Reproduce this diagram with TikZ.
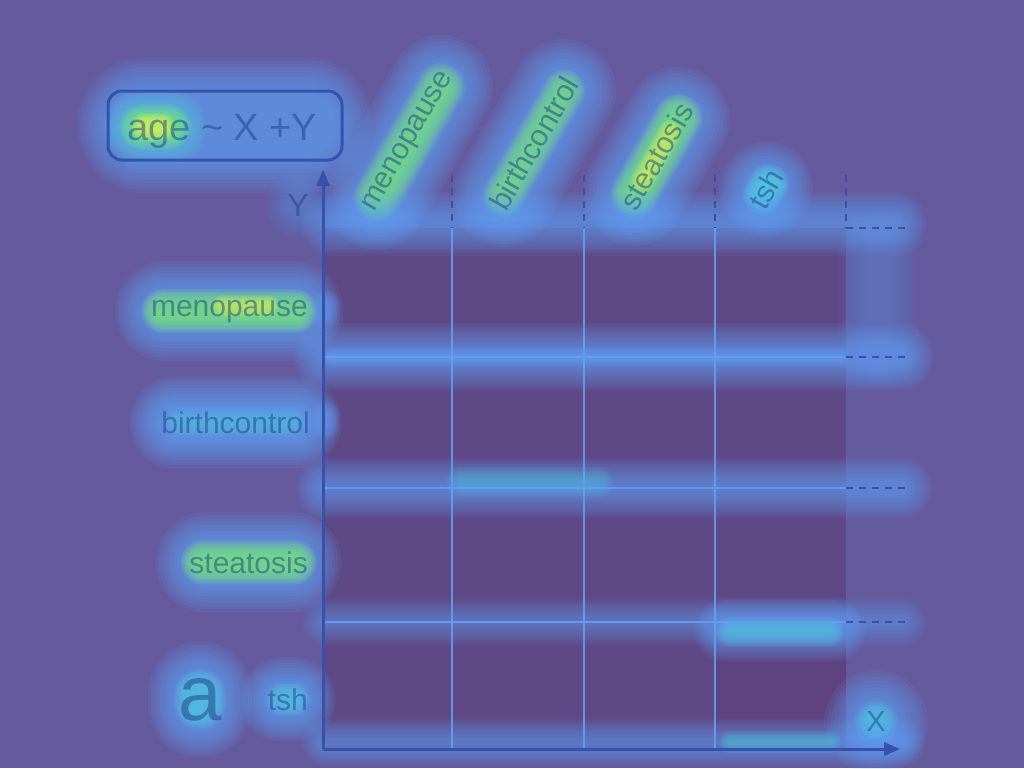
\documentclass[tikz,border=0pt]{standalone}
\usepackage{fontspec}
\setmainfont{Liberation Sans}
\usetikzlibrary{arrows.meta}
\definecolor{bg}{HTML}{655A9E}
\definecolor{cellc}{HTML}{5E4885}
\definecolor{cellr}{HTML}{5F4380}
\definecolor{gridc}{HTML}{62A2F6}
\definecolor{axisc}{HTML}{3552AE}
\definecolor{dashc}{HTML}{3F4FA2}
\definecolor{gblue}{HTML}{5EA8FF}
\definecolor{gcyan}{HTML}{4FD8E8}
\definecolor{ggreen}{HTML}{78EA7A}
\definecolor{gyel}{HTML}{D6F25A}
\definecolor{txt}{HTML}{1E3C8C}
\pgfdeclarelayer{back}
\pgfdeclarelayer{glow}
\pgfsetlayers{back,glow,main}
% soft glow: center, rotation, core half-width, core half-height, pad, colour, opacity per layer
\newcommand\sg[7]{%
  \begin{scope}[shift={(#1)}, rotate=#2]
    \foreach \k in {0,...,11}{%
      \pgfmathsetmacro\pp{#5*(1-\k/12)}%
      \pgfmathsetmacro\rr{0.99*(min(#3,#4)+\pp)}%
      \fill[#6, opacity=#7, rounded corners=\rr pt] ({-#3-\pp},{-#4-\pp}) rectangle ({#3+\pp},{#4+\pp});
    }
  \end{scope}}
\tikzset{
  lbl/.style={font=\fontsize{30}{36}\selectfont, text=txt, text opacity=0.5, inner sep=0pt},
  axisline/.style={draw=axisc, line width=3pt},
  dashline/.style={draw=dashc, line width=2pt, dash pattern=on 7pt off 6pt},
  gridline/.style={draw=gridc, line width=2.5pt, opacity=0.85},
  boxline/.style={draw=axisc, line width=3pt, rounded corners=14pt}
}
\begin{document}
\begin{tikzpicture}[x=1pt,y=-1pt]
\useasboundingbox (0,0) rectangle (1024,768);
% ---- text nodes
\node[lbl, font=\fontsize{38}{42}\selectfont, anchor=base west] (title) at (127,140) {age \textasciitilde\ X +Y};
\node[lbl, rotate=60, anchor=base west] (cmeno) at (374,213) {menopause};
\node[lbl, rotate=60, anchor=base west] (cbirth) at (506,213) {birthcontrol};
\node[lbl, rotate=60, anchor=base west] (cstea) at (636,213) {steatosis};
\node[lbl, rotate=60, anchor=base west] (ctsh) at (765,212) {tsh};
\node[lbl, anchor=base east] (rmeno) at (308,316) {menopause};
\node[lbl, anchor=base east] (rbirth) at (310,433) {birthcontrol};
\node[lbl, anchor=base east] (rstea) at (308,573) {steatosis};
\node[lbl, anchor=base east] (rtsh) at (308,710) {tsh};
\node[lbl, font=\fontsize{78}{80}\selectfont, anchor=base] (biga) at (200,720) {a};
\node[lbl, font=\fontsize{32}{36}\selectfont] (ylab) at (298,205) {Y};
\node[lbl, font=\fontsize{29}{34}\selectfont] (xlab) at (876,722) {X};
% ---- background and cells
\begin{pgfonlayer}{back}
  \fill[bg] (0,0) rectangle (1024,768);
  \fill[cellc] (325,228) rectangle (846,748);
  \fill[cellr] (715,622) rectangle (846,748);
\end{pgfonlayer}
% ---- glows
\begin{pgfonlayer}{glow}
  % box and "age"
  \sg{225,125}{0}{108}{28}{40}{gblue}{0.085}
  \sg{155,127}{0}{24}{10}{28}{gcyan}{0.07}
  \sg{155,127}{0}{20}{7}{16}{ggreen}{0.11}
  \sg{153,127}{0}{12}{4}{10}{gyel}{0.13}
  % column labels
  \sg{cmeno.center}{60}{76}{12}{40}{gblue}{0.095}
  \sg{cmeno.center}{60}{70}{6}{18}{ggreen}{0.11}
  \sg{cbirth.center}{60}{72}{12}{40}{gblue}{0.095}
  \sg{cbirth.center}{60}{66}{5}{16}{ggreen}{0.10}
  \sg{cstea.center}{60}{55}{12}{40}{gblue}{0.095}
  \sg{cstea.center}{60}{50}{6}{18}{ggreen}{0.12}
  \sg{cstea.center}{60}{30}{2}{10}{gyel}{0.10}
  \sg{ctsh.center}{60}{14}{12}{34}{gblue}{0.095}
  \sg{ctsh.center}{60}{12}{6}{14}{gcyan}{0.10}
  % row labels
  \sg{rmeno.center}{0}{76}{12}{38}{gblue}{0.095}
  \sg{rmeno.center}{0}{72}{6}{16}{ggreen}{0.12}
  \sg{245,306}{0}{25}{2}{9}{gyel}{0.09}
  \sg{rbirth.center}{0}{72}{12}{34}{gblue}{0.095}
  \sg{rbirth.center}{0}{60}{3}{12}{gcyan}{0.05}
  \sg{rstea.center}{0}{55}{12}{38}{gblue}{0.095}
  \sg{rstea.center}{0}{52}{6}{16}{ggreen}{0.12}
  \sg{biga.center}{0}{16}{22}{36}{gblue}{0.095}
  \sg{biga.center}{0}{12}{16}{14}{gcyan}{0.08}
  \sg{rtsh.center}{0}{16}{10}{32}{gblue}{0.095}
  \sg{rtsh.center}{0}{10}{5}{12}{gcyan}{0.07}
  % X and Y labels
  \sg{xlab.center}{0}{10}{10}{42}{gblue}{0.09}
  \sg{xlab.center}{0}{6}{6}{16}{gcyan}{0.08}
  \sg{ylab.center}{0}{8}{10}{24}{gblue}{0.04}
  % bands along the grid
  \sg{614,224}{0}{285}{4}{28}{gblue}{0.065}
  \sg{614,357}{0}{290}{4}{30}{gblue}{0.075}
  \sg{585,357}{0}{255}{1}{10}{gblue}{0.07}
  \sg{614,488}{0}{290}{3}{28}{gblue}{0.07}
  \sg{530,482}{0}{70}{2}{14}{gcyan}{0.045}
  \sg{614,622}{0}{290}{2}{22}{gblue}{0.05}
  \sg{780,630}{0}{60}{6}{26}{gblue}{0.075}
  \sg{780,632}{0}{52}{3}{12}{gcyan}{0.06}
  \sg{614,742}{0}{290}{2}{22}{gblue}{0.06}
  \sg{780,742}{0}{52}{2}{10}{gcyan}{0.05}
  \sg{878,300}{0}{10}{60}{30}{gblue}{0.03}
  \sg{326,310}{0}{2}{8}{12}{gblue}{0.06}
  \sg{326,420}{0}{2}{8}{12}{gblue}{0.06}
\end{pgfonlayer}
% ---- grid lines
\foreach \yy in {357,488,622}{ \draw[gridline] (325,\yy) -- (846,\yy); }
\foreach \xx in {452,584,715}{ \draw[gridline] (\xx,228) -- (\xx,748); }
% ---- dashed guides
\foreach \xx in {452,584,715,846}{ \draw[dashline] (\xx,175) -- (\xx,228); }
\foreach \yy in {228,357,488,622}{ \draw[dashline] (846,\yy) -- (905,\yy); }
% ---- box
\draw[boxline] (108,91) rectangle (342,160);
% ---- axes
\coordinate (O) at (323,749);
\coordinate (ytop) at (323,170);
\coordinate (xend) at (900,749);
\draw[axisline, -{Triangle[length=16pt,width=13pt]}] (O) -- (ytop);
\draw[axisline, -{Triangle[length=16pt,width=13pt]}] (O) -- (xend);
\end{tikzpicture}
\end{document}
